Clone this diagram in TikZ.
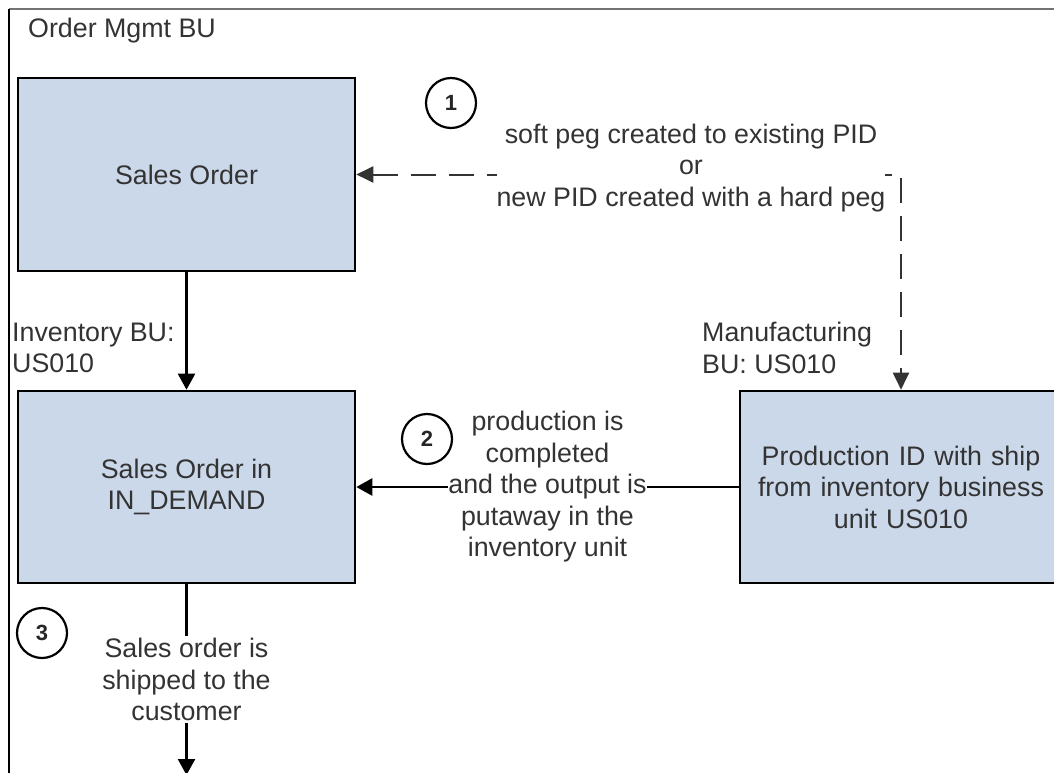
\documentclass[tikz,border=0pt]{standalone}
\usepackage{fontspec}
\setmainfont{Liberation Sans}
\usetikzlibrary{arrows.meta}
\definecolor{boxfill}{HTML}{CBD8EA}
\definecolor{txt}{HTML}{333333}
\tikzset{
  box/.style={draw=black, line width=2.6pt, fill=boxfill, text=txt, align=center, inner sep=0pt},
  lbl/.style={text=txt, align=center, inner sep=0pt},
  num/.style={circle, draw=black, line width=2.2pt, fill=white, minimum size=50pt, inner sep=0pt, font=\fontsize{22}{26}\selectfont\bfseries, text=black!85},
  conn/.style={draw=black, line width=2.4pt, -{Triangle[length=16pt,width=17pt]}},
  dashconn/.style={draw=black!80, line width=2pt, dash pattern=on 25pt off 13pt, {Triangle[length=17pt,width=16pt]}-{Triangle[length=17pt,width=16pt]}},
}
\begin{document}
\begin{tikzpicture}[x=1pt, y=-1pt, font=\fontsize{26.8}{31.5}\selectfont]
\useasboundingbox (0,0) rectangle (1054,773);
\fill[white] (0,0) rectangle (1054,773);
% frame
\draw[black!55, line width=1.2pt] (9,9) -- (1054,9);
\draw[black, line width=1.4pt] (9,9) -- (9,773);
\node[lbl, anchor=base west] (title) at (28,38) {Order Mgmt BU};
% boxes
\node[box, minimum width=337pt, minimum height=193pt] (so) at (186.5,174.5) {Sales Order};
\node[box, minimum width=337pt, minimum height=192pt] (dem) at (186.5,487) {Sales Order in\\IN\_DEMAND};
\node[box, minimum width=322pt, minimum height=192pt, text width=320pt] (prod) at (901,487) {Production ID with ship\\from inventory business\\unit US010};
% side labels
\node[lbl, anchor=west, align=left] (invbu) at (12,348) {Inventory BU:\\US010};
\node[lbl, anchor=west, align=left] (mfgbu) at (702,348) {Manufacturing\\BU: US010};
% connectors
\draw[conn] (so) -- (dem);
\draw[dashconn] (so.east) -| (prod.north);
\node[lbl, fill=white, inner ysep=2pt] (pegl) at (691,168) {soft peg created to existing PID\\or\\new PID created with a hard peg};
\draw[conn] (prod) -- node[lbl, fill=white, inner ysep=1pt] (prodl) {production is\\completed\\and the output is\\putaway in the\\inventory unit} (dem);
\coordinate (cust) at (186.5,775);
\draw[conn] (dem) -- node[lbl, fill=white, inner ysep=2pt] (shipl) {Sales order is\\shipped to the\\customer} (cust);
% step numbers
\node[num] (n1) at (451,103) {1};
\node[num] (n2) at (427,439) {2};
\node[num] (n3) at (42,633) {3};
\end{tikzpicture}
\end{document}
